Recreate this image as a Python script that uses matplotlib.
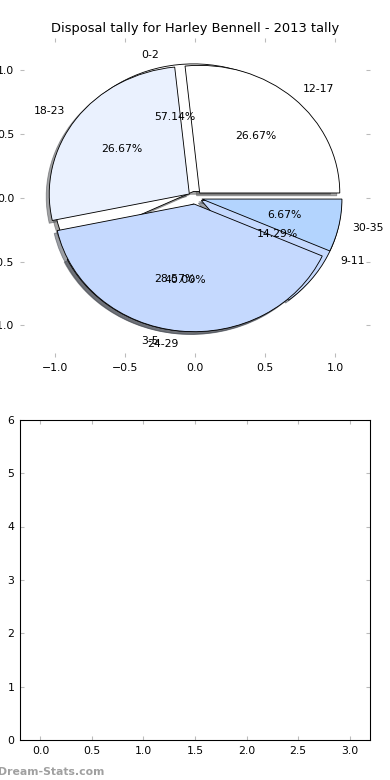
import matplotlib
matplotlib.use('Agg')
import matplotlib.pyplot as plt

# pie data (two sets drawn on the same axes)
labels_a = ['12-17', '18-23', '24-29', '30-35']
counts_a = [4, 4, 6, 1]
labels_b = ['0-2', '3-5', '9-11']
counts_b = [4, 2, 1]
colors = ['#FFFFFF', '#EAF1FE', '#C5D9FE', '#B3D4FE']

# bottom chart (empty)
bar_x = [0, 1, 2, 3]
bar_vals = [0, 0, 0, 0]

plt.rcParams['font.family'] = 'DejaVu Sans'
plt.rcParams['font.size'] = 10

fig = plt.figure(figsize=(5, 10), dpi=78)
ax1 = fig.add_axes([0.051, 0.542, 0.898, 0.409])
ax2 = fig.add_axes([0.051, 0.051, 0.898, 0.411])

wp = {'edgecolor': 'black', 'linewidth': 0.8}
ax1.pie(counts_b, labels=labels_b, colors=colors[:3], explode=[0.05] * 3,
        autopct='%1.2f%%', shadow=True, startangle=0, wedgeprops=wp,
        frame=True)
ax1.pie(counts_a, labels=labels_a, colors=colors, explode=[0.05] * 4,
        autopct='%1.2f%%', shadow=True, startangle=0, wedgeprops=wp,
        frame=True)
ax1.set_aspect('auto')
ax1.set_xlim(-1.25, 1.25)
ax1.set_ylim(-1.25, 1.25)
ax1.set_xticks([-1.0, -0.5, 0.0, 0.5, 1.0])
ax1.set_yticks([-1.0, -0.5, 0.0, 0.5, 1.0])
ax1.set_frame_on(False)
ax1.set_title('Disposal tally for Harley Bennell - 2013 tally', fontsize=12)

ax2.bar(bar_x, bar_vals, width=0.4, color='#B3D4FE', linewidth=0)
ax2.set_xlim(-0.2, 3.2)
ax2.set_ylim(0, 6)
ax2.set_xticks([0.0, 0.5, 1.0, 1.5, 2.0, 2.5, 3.0])
for sp in ax2.spines.values():
    sp.set_linewidth(1.0)

for ax in (ax1, ax2):
    ax.tick_params(direction='in', length=4, width=1, color='#BBBBBB',
                   top=True, right=True, labelsize=10, pad=5)

fig.text(-0.004, 0.004, 'Dream-Stats.com', color='#A0A0A0', fontsize=10,
         fontweight='bold', ha='left', va='bottom')

fig.savefig('out.png', dpi=78)
